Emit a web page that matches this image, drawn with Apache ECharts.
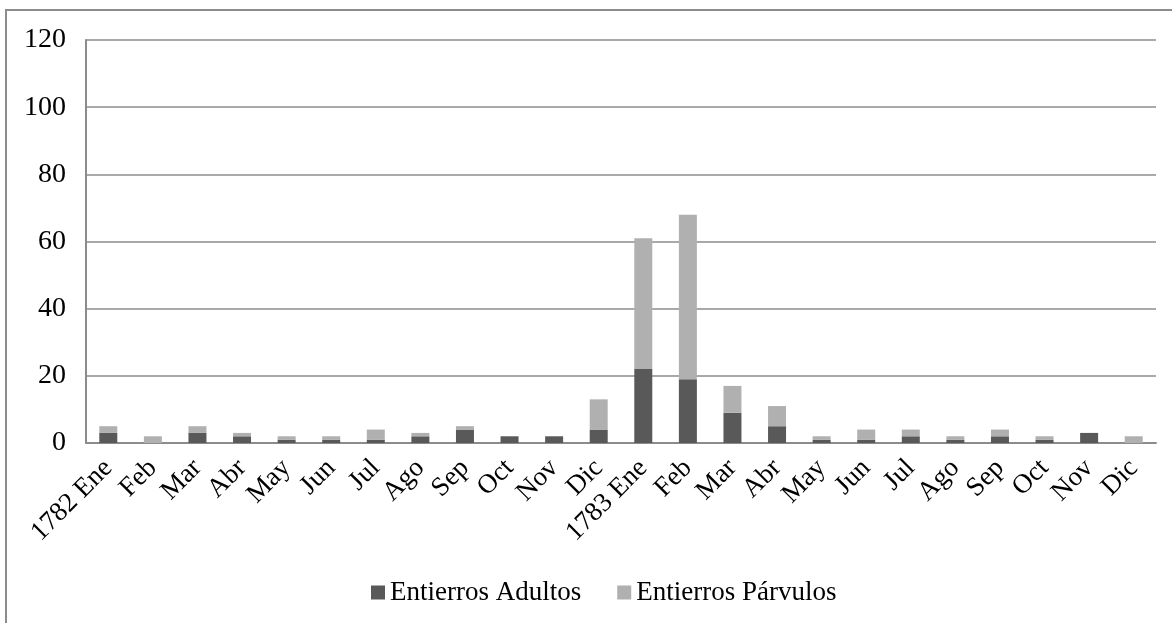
<!DOCTYPE html>
<html>
<head>
<meta charset="utf-8">
<script src="https://cdn.jsdelivr.net/npm/echarts@6/dist/echarts.min.js"></script>
<style>
html, body { margin: 0; padding: 0; background: #fff; }
#chart { width: 1172px; height: 623px; }
</style>
</head>
<body>
<div id="chart"></div>
<script>
// meses
var meses = ['1782 Ene','Feb','Mar','Abr','May','Jun','Jul','Ago','Sep','Oct','Nov','Dic',
             '1783 Ene','Feb','Mar','Abr','May','Jun','Jul','Ago','Sep','Oct','Nov','Dic'];
var adultos  = [3,0,3,2,1,1,1,2,4,2,2,4, 22,19,9,5,1,1,2,1,2,1,3,0];
var parvulos = [2,2,2,1,1,1,3,1,1,0,0,9, 39,49,8,6,1,3,2,1,2,1,0,2];
var yTicks = [0,20,40,60,80,100,120];

var fuente = '"Liberation Serif", "Times New Roman", serif';
var chart = echarts.init(document.getElementById('chart'));

chart.setOption({
	animation: false,
	color: ['#595959', '#b0b0b0'],
	textStyle: { fontFamily: fuente },
	graphic: [{
		type: 'rect',
		shape: { x: 6, y: 10, width: 1300, height: 800 },
		style: { fill: 'none', stroke: '#8c8c8c', lineWidth: 2 },
		z: -1
	}],
	grid: { left: 86, right: 16, top: 40, bottom: 180 },
	legend: {
		bottom: 12,
		left: 366,
		itemWidth: 14,
		itemHeight: 14,
		itemGap: 36,
		icon: 'rect',
		textStyle: { fontFamily: fuente, fontSize: 27, color: '#000' },
		data: ['Entierros Adultos', 'Entierros Párvulos']
	},
	xAxis: {
		type: 'category',
		data: meses,
		axisLine: { lineStyle: { color: '#8c8c8c', width: 2 } },
		axisTick: { show: false },
		axisLabel: {
			rotate: 45,
			interval: 0,
			margin: 21,
			color: '#000',
			fontFamily: fuente,
			fontSize: 27
		}
	},
	yAxis: {
		type: 'value',
		min: yTicks[0],
		max: yTicks[yTicks.length - 1],
		interval: 20,
		axisLine: { show: true, lineStyle: { color: '#8c8c8c', width: 2 } },
		axisTick: { show: false },
		splitLine: { lineStyle: { color: '#8c8c8c', width: 1.5 } },
		axisLabel: { margin: 20, color: '#000', fontFamily: fuente, fontSize: 28 }
	},
	series: [
		{
			name: 'Entierros Adultos',
			type: 'bar',
			stack: 'total',
			barWidth: 18,
			data: adultos
		},
		{
			name: 'Entierros Párvulos',
			type: 'bar',
			stack: 'total',
			barWidth: 18,
			data: parvulos
		}
	]
});
</script>
</body>
</html>
